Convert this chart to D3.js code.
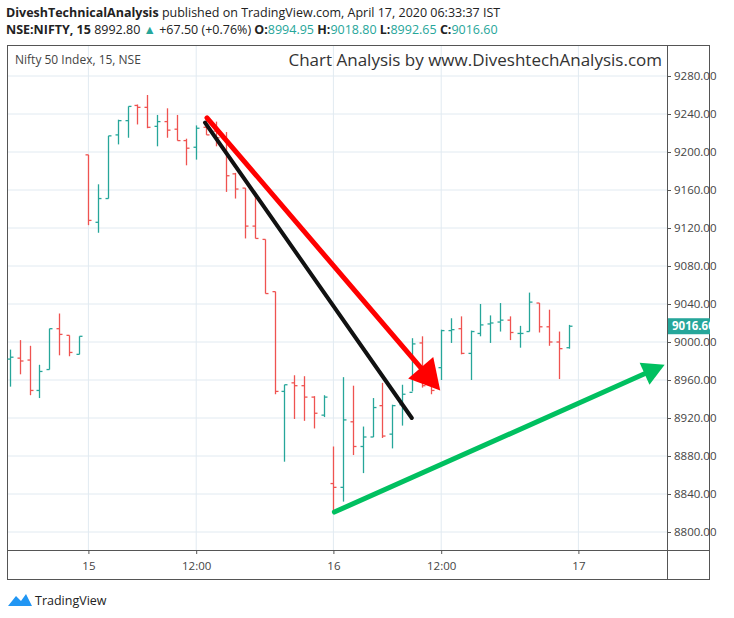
<!DOCTYPE html>
<html><head><meta charset="utf-8">
<script src="https://cdn.jsdelivr.net/npm/d3@7"></script>
<style>body{margin:0;background:#fff;font-family:"Open Sans",sans-serif}</style>
</head><body><div id="chart"></div>
<script>
// OHLC bars, 15 minute, index 0 = first visible bar
const opens  = [8982,8983,8981,8949,8971,9014,9007,8987, 9197,9126,9151,9218,9233,9249,9247,9227,9232,9224,9212,9205,9226,9222,9215,9177,9162,9122,9108,9053,8948,8957,8954,8942,8923, 8851,8847,8916,8890,8900,8933,8903,8934,8947,8999,8955,8973,9012,9014,8988,9009,9019,9021,9023,9009,9011,9041,9016,9000,8994];
const highs  = [8992,9002,8996,8976,9014,9030,9007,9006, 9197,9166,9217,9234,9248,9250,9260,9239,9246,9239,9214,9228,9237,9232,9221,9178,9162,9154,9108,9053,8955,8965,8964,8943,8944, 8890,8963,8954,8911,8941,8957,8934,8955,9004,9006,8960,9013,9025,9027,9012,9040,9028,9041,9027,9017,9052,9041,9034,9011,9018];
const lows   = [8953,8966,8944,8941,8971,8986,8985,8987, 9123,9115,9151,9208,9215,9229,9225,9206,9215,9212,9186,9192,9218,9206,9158,9151,9109,9109,9051,8945,8874,8919,8917,8909,8921, 8823,8832,8881,8862,8900,8899,8888,8912,8948,8952,8945,8960,8999,8987,8960,9006,8999,9011,9002,8994,9011,9010,8996,8961,8993];
const closes = [8984,8980,8949,8969,9014,9008,8989,9006, 9128,9151,9217,9233,9248,9247,9226,9232,9223,9212,9204,9225,9218,9215,9175,9161,9122,9109,9051,8948,8955,8954,8942,8925,8942, 8847,8918,8890,8900,8931,8901,8933,8945,8998,8954,8949,9012,9013,8988,9011,9018,9020,9023,9010,9009,9042,9016,9000,8993,9016.6];
const timeTicks = [8, 19, 33, 44, 58];
const timeLabels = ["15", "12:00", "16", "12:00", "17"];
const priceTicks = [8800,8840,8880,8920,8960,9000,9040,9080,9120,9160,9200,9240,9280];
// drawn annotations [index, price]
const redArrow = [[20.1, 9236], [43.9, 8949]];
const blackLine = [[19.9, 9231], [41.0, 8920]];
const greenArrow = [[33.1, 8821], [66.8, 8976]];
const lastPrice = 9016.60;

const width = 734, height = 618;
const mLeft = 8, mRight = 667, mTop = 45, mBottom = 550;
const green = "#26a69a", red = "#ef5350";

const x = d3.scaleLinear([0, 67], [10, 10 + 67 * 9.8]);
const y = d3.scaleLinear([8800, 9280], [532, 76]);

const svg = d3.select("#chart").append("svg")
    .attr("width", width).attr("height", height)
    .attr("font-family", "'Open Sans', sans-serif");

// header
const h1 = svg.append("text").attr("x", 6).attr("y", 17).attr("font-size", 12.5).attr("fill", "#222");
h1.append("tspan").attr("font-weight", "bold").text("DiveshTechnicalAnalysis");
h1.append("tspan").text(" published on TradingView.com, April 17, 2020 06:33:37 IST");
const h2 = svg.append("text").attr("x", 6).attr("y", 34).attr("font-size", 12.5).attr("fill", "#222");
h2.append("tspan").attr("font-weight", "bold").text("NSE:NIFTY, 15");
h2.append("tspan").text(" 8992.80 ");
h2.append("tspan").attr("fill", green).text("▲");
h2.append("tspan").text(" +67.50 (+0.76%) ");
[["O:", "8994.95"], ["H:", "9018.80"], ["L:", "8992.65"], ["C:", "9016.60"]].forEach(([k, v]) => {
    h2.append("tspan").attr("font-weight", "bold").text(k);
    h2.append("tspan").attr("fill", green).text(v + " ");
});

// grid
const grid = svg.append("g").attr("stroke", "#e1eaf1");
grid.selectAll(".v").data(timeTicks).join("line")
    .attr("x1", d => x(d)).attr("x2", d => x(d)).attr("y1", mTop).attr("y2", mBottom);
grid.selectAll(".h").data(priceTicks).join("line")
    .attr("x1", mLeft).attr("x2", mRight).attr("y1", d => y(d)).attr("y2", d => y(d));

// frame
svg.append("rect").attr("x", 7.5).attr("y", 45.5).attr("width", 702).attr("height", 534)
    .attr("fill", "none").attr("stroke", "#555");
svg.append("line").attr("x1", mRight + 0.5).attr("x2", mRight + 0.5).attr("y1", 45).attr("y2", 580).attr("stroke", "#555");
svg.append("line").attr("x1", 7).attr("x2", 710).attr("y1", mBottom + 0.5).attr("y2", mBottom + 0.5).attr("stroke", "#555");

// axes
const gy = svg.append("g").attr("transform", `translate(${mRight},0)`)
    .call(d3.axisRight(y).tickValues(priceTicks).tickFormat(d3.format(".2f")).tickSize(4))
    .call(g => g.select(".domain").remove());
gy.selectAll("text").attr("font-size", 11.5).attr("fill", "#444").attr("font-family", "'Open Sans', sans-serif");
gy.selectAll("line").attr("stroke", "#555");
const gx = svg.append("g").attr("transform", `translate(0,${mBottom})`)
    .call(d3.axisBottom(x).tickValues(timeTicks).tickFormat((d, i) => timeLabels[i]).tickSize(4))
    .call(g => g.select(".domain").remove());
gx.selectAll("text").attr("font-size", 11.5).attr("fill", "#444").attr("dy", "1.1em").attr("font-family", "'Open Sans', sans-serif");
gx.selectAll("line").attr("stroke", "#555");

// titles
svg.append("text").attr("x", 15).attr("y", 64).attr("font-size", 12).attr("fill", "#444").text("Nifty 50 Index, 15, NSE");
svg.append("text").attr("x", 662).attr("y", 66).attr("text-anchor", "end").attr("font-size", 17)
    .attr("fill", "#333").text("Chart Analysis by www.DiveshtechAnalysis.com");

// bars
const bars = svg.append("g").attr("stroke-width", 1.3);
opens.forEach((o, i) => {
    const c = closes[i], col = c >= o ? green : red, cx = Math.round(x(i)) + 0.5;
    const b = bars.append("g").attr("stroke", col);
    b.append("line").attr("x1", cx).attr("x2", cx).attr("y1", y(highs[i])).attr("y2", y(lows[i]));
    b.append("line").attr("x1", cx - 3).attr("x2", cx).attr("y1", y(o)).attr("y2", y(o));
    b.append("line").attr("x1", cx).attr("x2", cx + 3).attr("y1", y(c)).attr("y2", y(c));
});

// annotations
const px = p => [x(p[0]), y(p[1])];
function arrow(pts, color, w, head) {
    const [a, b] = pts.map(px);
    const ang = Math.atan2(b[1] - a[1], b[0] - a[0]);
    const base = [b[0] - head * Math.cos(ang), b[1] - head * Math.sin(ang)];
    svg.append("line").attr("x1", a[0]).attr("y1", a[1]).attr("x2", base[0]).attr("y2", base[1])
        .attr("stroke", color).attr("stroke-width", w).attr("stroke-linecap", "round");
    const hw = head * 0.55, nx = -Math.sin(ang), ny = Math.cos(ang);
    svg.append("path").attr("fill", color)
        .attr("d", `M${b[0]},${b[1]}L${base[0] + nx * hw},${base[1] + ny * hw}L${base[0] - nx * hw},${base[1] - ny * hw}Z`);
}
arrow(redArrow, "#ff0000", 5, 30);
const bl = blackLine.map(px);
svg.append("line").attr("x1", bl[0][0]).attr("y1", bl[0][1]).attr("x2", bl[1][0]).attr("y2", bl[1][1])
    .attr("stroke", "#111").attr("stroke-width", 4).attr("stroke-linecap", "round");
arrow(greenArrow, "#00c060", 5, 22);

// last price label
svg.append("rect").attr("x", mRight + 1).attr("y", y(lastPrice) - 8).attr("width", 42).attr("height", 16).attr("fill", green);
svg.append("text").attr("x", mRight + 5).attr("y", y(lastPrice) + 4).attr("font-size", 11.5)
    .attr("font-weight", "bold").attr("fill", "#fff").text("9016.60");

// footer logo
const lg = svg.append("g").attr("transform", "translate(8,592)");
lg.append("path").attr("d", "M0,14 L8,4 L13,9 L18,2 L24,14 Z").attr("fill", "#2196f3");
svg.append("text").attr("x", 35).attr("y", 605).attr("font-size", 12.5).attr("fill", "#222").text("TradingView");
</script></body></html>
